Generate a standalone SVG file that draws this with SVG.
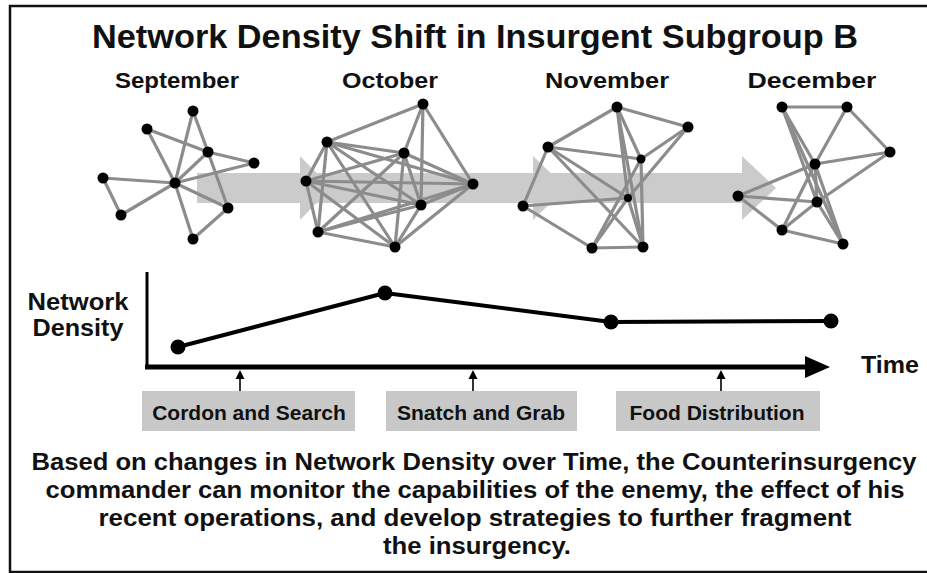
<svg xmlns="http://www.w3.org/2000/svg" width="927" height="573" viewBox="0 0 927 573">
<style>
text{font-family:"Liberation Sans",Arial,sans-serif;font-weight:bold;fill:#111}
.e{stroke:#8c8c8c;stroke-width:3.2;stroke-linecap:round;fill:none}
.n{fill:#000}
.band{fill:#cbcbcb}
.lbl{fill:#c8c8c8}
</style>
<rect x="0" y="0" width="927" height="573" fill="#fff"/>
<rect x="10" y="6" width="940" height="566" fill="none" stroke="#111" stroke-width="2.5"/>
<text x="475" y="48" font-size="33" text-anchor="middle" textLength="766" lengthAdjust="spacingAndGlyphs">Network Density Shift in Insurgent Subgroup B</text>
<g id="month-labels">
<text x="177" y="88" font-size="22" text-anchor="middle" textLength="124" lengthAdjust="spacingAndGlyphs">September</text>
<text x="390" y="88" font-size="22" text-anchor="middle" textLength="96" lengthAdjust="spacingAndGlyphs">October</text>
<text x="607" y="88" font-size="22" text-anchor="middle" textLength="124" lengthAdjust="spacingAndGlyphs">November</text>
<text x="812" y="88" font-size="22" text-anchor="middle" textLength="129" lengthAdjust="spacingAndGlyphs">December</text>
</g>
<g id="time-band">
<rect class="band" x="197" y="173" width="560" height="30"/>
<polygon class="band" points="300,156 331,188 300,220"/>
<polygon class="band" points="533,156 566,188 533,220"/>
<polygon class="band" points="742,156 776,188 742,220"/>
</g>
<g id="september">
<g class="e">
<line x1="175" y1="183" x2="193" y2="111"/><line x1="175" y1="183" x2="147" y2="129"/>
<line x1="175" y1="183" x2="208" y2="152"/><line x1="175" y1="183" x2="254" y2="163"/>
<line x1="175" y1="183" x2="103" y2="178"/><line x1="175" y1="183" x2="121" y2="215"/>
<line x1="175" y1="183" x2="228" y2="208"/><line x1="175" y1="183" x2="193" y2="239"/>
<line x1="193" y1="111" x2="208" y2="152"/><line x1="208" y1="152" x2="228" y2="208"/>
<line x1="147" y1="129" x2="208" y2="152"/><line x1="208" y1="152" x2="254" y2="163"/>
<line x1="103" y1="178" x2="121" y2="215"/><line x1="193" y1="239" x2="228" y2="208"/>
</g>
<g class="n">
<circle cx="193" cy="111" r="5.5"/><circle cx="147" cy="129" r="5.5"/><circle cx="208" cy="152" r="5.5"/>
<circle cx="254" cy="163" r="5.5"/><circle cx="103" cy="178" r="5.5"/><circle cx="175" cy="183" r="5.5"/>
<circle cx="121" cy="215" r="5.5"/><circle cx="228" cy="208" r="5.5"/><circle cx="193" cy="239" r="5.5"/>
</g>
</g>
<g id="october">
<g class="e">
<line x1="423" y1="104" x2="327" y2="142"/><line x1="423" y1="104" x2="404" y2="153"/>
<line x1="423" y1="104" x2="421" y2="205"/><line x1="423" y1="104" x2="473" y2="184"/>
<line x1="327" y1="142" x2="404" y2="153"/><line x1="327" y1="142" x2="306" y2="181"/>
<line x1="327" y1="142" x2="473" y2="184"/><line x1="327" y1="142" x2="421" y2="205"/>
<line x1="327" y1="142" x2="318" y2="232"/><line x1="327" y1="142" x2="395" y2="247"/>
<line x1="404" y1="153" x2="306" y2="181"/><line x1="404" y1="153" x2="473" y2="184"/>
<line x1="404" y1="153" x2="421" y2="205"/><line x1="404" y1="153" x2="318" y2="232"/>
<line x1="404" y1="153" x2="395" y2="247"/>
<line x1="306" y1="181" x2="473" y2="184"/><line x1="306" y1="181" x2="421" y2="205"/>
<line x1="306" y1="181" x2="318" y2="232"/><line x1="306" y1="181" x2="395" y2="247"/>
<line x1="473" y1="184" x2="421" y2="205"/><line x1="473" y1="184" x2="318" y2="232"/>
<line x1="473" y1="184" x2="395" y2="247"/>
<line x1="421" y1="205" x2="318" y2="232"/><line x1="421" y1="205" x2="395" y2="247"/>
<line x1="318" y1="232" x2="395" y2="247"/>
</g>
<g class="n">
<circle cx="423" cy="104" r="5.5"/><circle cx="327" cy="142" r="5.5"/><circle cx="404" cy="153" r="5.5"/>
<circle cx="306" cy="181" r="5.5"/><circle cx="473" cy="184" r="5.5"/><circle cx="421" cy="205" r="5.5"/>
<circle cx="318" cy="232" r="5.5"/><circle cx="395" cy="247" r="5.5"/>
</g>
</g>
<g id="november">
<g class="e">
<line x1="617" y1="107" x2="548" y2="147"/><line x1="617" y1="107" x2="688" y2="127"/>
<line x1="617" y1="107" x2="641" y2="159"/><line x1="617" y1="107" x2="628" y2="198"/>
<line x1="617" y1="107" x2="643" y2="247"/>
<line x1="688" y1="127" x2="641" y2="159"/><line x1="688" y1="127" x2="628" y2="198"/>
<line x1="548" y1="147" x2="641" y2="159"/><line x1="548" y1="147" x2="523" y2="206"/>
<line x1="548" y1="147" x2="628" y2="198"/><line x1="548" y1="147" x2="643" y2="247"/>
<line x1="523" y1="206" x2="628" y2="198"/><line x1="523" y1="206" x2="592" y2="248"/>
<line x1="641" y1="159" x2="592" y2="248"/><line x1="641" y1="159" x2="643" y2="247"/>
<line x1="628" y1="198" x2="592" y2="248"/><line x1="628" y1="198" x2="643" y2="247"/>
<line x1="592" y1="248" x2="643" y2="247"/>
</g>
<g class="n">
<circle cx="617" cy="107" r="5.5"/><circle cx="688" cy="127" r="5.5"/><circle cx="548" cy="147" r="5.5"/>
<circle cx="641" cy="159" r="4.5"/><circle cx="628" cy="198" r="4"/><circle cx="523" cy="206" r="5.5"/>
<circle cx="592" cy="248" r="5.5"/><circle cx="643" cy="247" r="5.5"/>
</g>
</g>
<g id="december">
<g class="e">
<line x1="782" y1="107" x2="847" y2="107"/><line x1="847" y1="107" x2="890" y2="152"/>
<line x1="847" y1="107" x2="815" y2="164"/><line x1="782" y1="107" x2="815" y2="164"/>
<line x1="782" y1="107" x2="817" y2="202"/><line x1="782" y1="107" x2="843" y2="244"/>
<line x1="815" y1="164" x2="890" y2="152"/><line x1="815" y1="164" x2="738" y2="196"/>
<line x1="815" y1="164" x2="817" y2="202"/><line x1="815" y1="164" x2="782" y2="230"/>
<line x1="815" y1="164" x2="843" y2="244"/>
<line x1="738" y1="196" x2="817" y2="202"/><line x1="738" y1="196" x2="782" y2="230"/>
<line x1="817" y1="202" x2="890" y2="152"/><line x1="817" y1="202" x2="782" y2="230"/>
<line x1="782" y1="230" x2="843" y2="244"/><line x1="817" y1="202" x2="843" y2="244"/>
</g>
<g class="n">
<circle cx="782" cy="107" r="5.5"/><circle cx="847" cy="107" r="5.5"/><circle cx="890" cy="152" r="5.5"/>
<circle cx="815" cy="164" r="5.5"/><circle cx="738" cy="196" r="5.5"/><circle cx="817" cy="202" r="5.5"/>
<circle cx="782" cy="230" r="5.5"/><circle cx="843" cy="244" r="5.5"/>
</g>
</g>
<g id="chart">
<text x="78" y="310" font-size="24" text-anchor="middle" textLength="101" lengthAdjust="spacingAndGlyphs">Network</text>
<text x="78" y="336" font-size="24" text-anchor="middle" textLength="91" lengthAdjust="spacingAndGlyphs">Density</text>
<line x1="147" y1="272" x2="147" y2="369" stroke="#000" stroke-width="3"/>
<line x1="145" y1="367" x2="810" y2="367" stroke="#000" stroke-width="5"/>
<polygon points="805,356 830,367 805,378" fill="#000"/>
<text x="861" y="373" font-size="24" textLength="58" lengthAdjust="spacingAndGlyphs">Time</text>
<polyline points="178,347 385,293 611,322 831,321" fill="none" stroke="#000" stroke-width="4" stroke-linejoin="round"/>
<g class="n">
<circle cx="178" cy="347" r="7.5"/><circle cx="385" cy="293" r="7.5"/>
<circle cx="611" cy="322" r="7.5"/><circle cx="831" cy="321" r="7.5"/>
</g>
</g>
<g id="operations">
<g stroke="#000" stroke-width="1.6">
<line x1="240" y1="391" x2="240" y2="377"/><line x1="473" y1="391" x2="473" y2="377"/><line x1="721" y1="391" x2="721" y2="377"/>
</g>
<g fill="#000">
<polygon points="235.5,379 240,370 244.5,379"/><polygon points="468.5,379 473,370 477.5,379"/><polygon points="716.5,379 721,370 725.5,379"/>
</g>
<g id="op-cordon"><rect class="lbl" x="142" y="391" width="213" height="40"/><text x="249" y="420" font-size="21" text-anchor="middle">Cordon and Search</text></g>
<g id="op-snatch"><rect class="lbl" x="386" y="391" width="191" height="40"/><text x="481" y="420" font-size="21" text-anchor="middle">Snatch and Grab</text></g>
<g id="op-food"><rect class="lbl" x="616" y="391" width="204" height="40"/><text x="717" y="420" font-size="21" text-anchor="middle">Food Distribution</text></g>
</g>
<g id="caption" font-size="23">
<text x="474" y="470" text-anchor="middle" textLength="885" lengthAdjust="spacingAndGlyphs">Based on changes in Network Density over Time, the Counterinsurgency</text>
<text x="475" y="498" text-anchor="middle" textLength="859" lengthAdjust="spacingAndGlyphs">commander can monitor the capabilities of the enemy, the effect of his</text>
<text x="475" y="526" text-anchor="middle" textLength="753" lengthAdjust="spacingAndGlyphs">recent operations, and develop strategies to further fragment</text>
<text x="477" y="554" text-anchor="middle" textLength="188" lengthAdjust="spacingAndGlyphs">the insurgency.</text>
</g>
</svg>
